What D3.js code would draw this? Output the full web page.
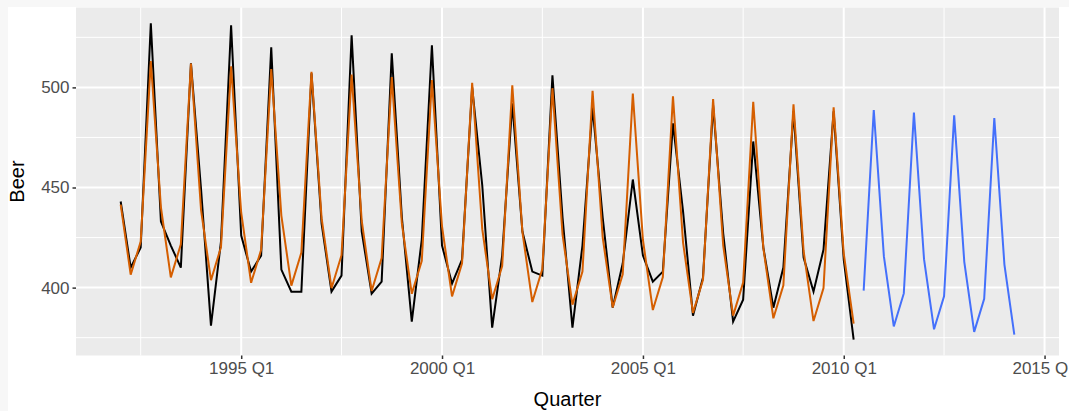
<!DOCTYPE html>
<html>
<head>
<meta charset="utf-8">
<script src="https://cdn.jsdelivr.net/npm/d3@7"></script>
<style>
	body { margin: 0; background: #f7f7f7; }
	svg { display: block; font-family: "Liberation Sans", Arial, sans-serif; }
</style>
</head>
<body>
<div id="chart"></div>
<script>
// Australian beer production, from 1992 Q1
const START_YEAR = 1992;
const beer = [
	443, 410, 420, 532,
	433, 421, 410, 512,
	449, 381, 423, 531,
	426, 408, 416, 520,
	409, 398, 398, 507,
	432, 398, 406, 526,
	428, 397, 403, 517,
	435, 383, 424, 521,
	421, 402, 414, 500,
	451, 380, 416, 492,
	428, 408, 406, 506,
	435, 380, 421, 490,
	435, 390, 412, 454,
	416, 403, 408, 482,
	438, 386, 405, 491,
	427, 383, 394, 473,
	420, 390, 410, 488,
	415, 398, 419, 488,
	414, 374
];

// fitted values, same quarters as beer
const fitted = [
	441.5, 406.5, 423.0, 513.2,
	440.1, 405.1, 421.6, 511.9,
	438.7, 403.7, 420.2, 510.5,
	437.4, 402.4, 418.9, 509.2,
	436.0, 401.0, 417.5, 507.8,
	434.7, 399.7, 416.2, 506.4,
	433.3, 398.3, 414.8, 505.1,
	431.9, 396.9, 413.4, 503.7,
	430.6, 395.6, 412.1, 502.3,
	429.2, 394.2, 410.7, 501.0,
	427.8, 392.8, 409.3, 499.6,
	426.5, 391.5, 408.0, 498.3,
	425.1, 390.1, 406.6, 496.9,
	423.8, 388.8, 405.3, 495.5,
	422.4, 387.4, 403.9, 494.2,
	421.0, 386.0, 402.5, 492.8,
	419.7, 384.7, 401.2, 491.5,
	418.3, 383.3, 399.8, 490.1,
	417.0, 382.0
];

// forecasts, 2010 Q3 to 2014 Q2
const forecast = [
	398.5, 488.7,
	415.6, 380.6, 397.1, 487.4,
	414.2, 379.2, 395.7, 486.0,
	412.9, 377.9, 394.4, 484.7,
	411.5, 376.5
];

const yTicks = [400, 450, 500];
const yMinor = [375, 425, 475, 525];
const xTickYears = [1995, 2000, 2005, 2010, 2015];
const xMinorYears = [1992.5, 1997.5, 2002.5, 2007.5, 2012.5];

const W = 1069, H = 411;
const panel = {left: 76, right: 1059, top: 7.5, bottom: 355.5};

// quarter index -> date of first day of quarter
function qDate(i){
	return new Date(START_YEAR + Math.floor(i/4), (i%4)*3, 1);
}
function yearDate(y){
	const yr = Math.floor(y);
	return new Date(yr, Math.round((y-yr)*12), 1);
}

const actualData = beer.map((v,i) => ({date: qDate(i), value: v}));
const fittedData = fitted.map((v,i) => ({date: qDate(i), value: v}));
const fcData = forecast.map((v,i) => ({date: qDate(beer.length + i), value: v}));

const allDates = actualData.concat(fcData).map(d => d.date);
const allVals = beer.concat(fitted, forecast);

const d0 = d3.min(allDates), d1 = d3.max(allDates);
const span = d1 - d0;
const x = d3.scaleTime()
	.domain([new Date(+d0 - span*0.05), new Date(+d1 + span*0.05)])
	.range([panel.left, panel.right]);

const vMin = d3.min(allVals), vMax = d3.max(allVals);
const vPad = (vMax - vMin)*0.05;
const y = d3.scaleLinear()
	.domain([vMin - vPad, vMax + vPad])
	.range([panel.bottom, panel.top]);

const svg = d3.select('#chart')
	.append('svg')
	.attr('width', W)
	.attr('height', H);

svg.append('rect')
	.attr('x', 8)
	.attr('y', 7)
	.attr('width', W-8)
	.attr('height', H-7)
	.style('fill', 'white');

svg.append('rect')
	.attr('x', panel.left)
	.attr('y', panel.top)
	.attr('width', panel.right - panel.left)
	.attr('height', panel.bottom - panel.top)
	.style('fill', '#ebebeb');

//grid
const grid = svg.append('g');
yMinor.forEach(v => {
	grid.append('line')
		.attr('x1', panel.left).attr('x2', panel.right)
		.attr('y1', y(v)).attr('y2', y(v))
		.style('stroke', 'white').style('stroke-width', '1px');
});
xMinorYears.forEach(v => {
	grid.append('line')
		.attr('x1', x(yearDate(v))).attr('x2', x(yearDate(v)))
		.attr('y1', panel.top).attr('y2', panel.bottom)
		.style('stroke', 'white').style('stroke-width', '1px');
});
yTicks.forEach(v => {
	grid.append('line')
		.attr('x1', panel.left).attr('x2', panel.right)
		.attr('y1', y(v)).attr('y2', y(v))
		.style('stroke', 'white').style('stroke-width', '2px');
});
xTickYears.forEach(v => {
	grid.append('line')
		.attr('x1', x(yearDate(v))).attr('x2', x(yearDate(v)))
		.attr('y1', panel.top).attr('y2', panel.bottom)
		.style('stroke', 'white').style('stroke-width', '2px');
});

//lines
const line = d3.line()
	.x(d => x(d.date))
	.y(d => y(d.value));

svg.append('path')
	.datum(actualData)
	.attr('d', line)
	.style('fill', 'none')
	.style('stroke', 'black')
	.style('stroke-width', '2px');

svg.append('path')
	.datum(fittedData)
	.attr('d', line)
	.style('fill', 'none')
	.style('stroke', '#d55e00')
	.style('stroke-width', '2px');

svg.append('path')
	.datum(fcData)
	.attr('d', line)
	.style('fill', 'none')
	.style('stroke', '#4470fb')
	.style('stroke-width', '2px');

//axes
const yAxis = d3.axisLeft(y)
	.tickValues(yTicks)
	.tickSize(3.5)
	.tickPadding(3);

const gy = svg.append('g')
	.attr('transform', 'translate(' + panel.left + ',0)')
	.call(yAxis);

const xAxis = d3.axisBottom(x)
	.tickValues(xTickYears.map(yearDate))
	.tickFormat(d => d.getFullYear() + ' Q1')
	.tickSize(3.5)
	.tickPadding(3);

const gx = svg.append('g')
	.attr('transform', 'translate(0,' + panel.bottom + ')')
	.call(xAxis);

[gx, gy].forEach(g => {
	g.select('.domain').remove();
	g.selectAll('.tick line')
		.style('stroke', '#333333')
		.style('stroke-width', '1.5px');
	g.selectAll('.tick text')
		.style('fill', '#4d4d4d')
		.style('font-size', '17px')
		.style('font-family', '"Liberation Sans", Arial, sans-serif');
});

svg.append('text')
	.attr('x', (panel.left + panel.right)/2)
	.attr('y', 406)
	.attr('text-anchor', 'middle')
	.style('font-size', '20px')
	.style('fill', 'black')
	.text('Quarter');

svg.append('text')
	.attr('transform', 'translate(24,' + ((panel.top + panel.bottom)/2) + ') rotate(-90)')
	.attr('text-anchor', 'middle')
	.style('font-size', '20px')
	.style('fill', 'black')
	.text('Beer');
</script>
</body>
</html>
